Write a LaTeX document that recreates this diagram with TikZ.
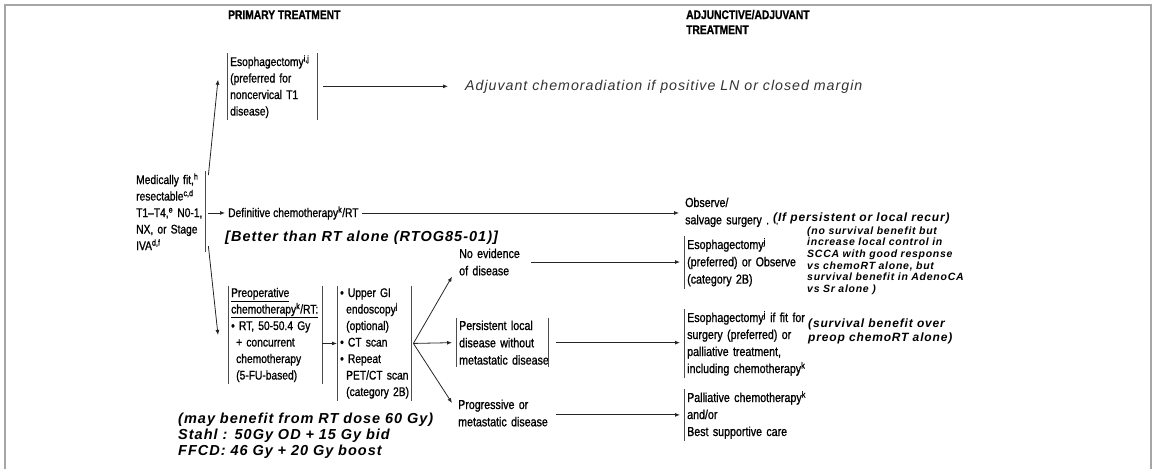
\documentclass[tikz,border=0pt]{standalone}
\usepackage{fontspec}
\setmainfont{Liberation Sans}
\newfontfamily\nar[FakeStretch=0.82,FakeBold=1]{Liberation Sans}
\newfontfamily\ital[LetterSpace=7]{Liberation Sans}
\usetikzlibrary{arrows.meta,calc}
\begin{document}
\begin{tikzpicture}[x=1pt,y=-1pt,
 nl/.style={font=\nar\fontsize{12.5}{16.5}\selectfont},
 nm/.style={font=\nar\fontsize{13}{17.3}\selectfont},
 hd/.style={font=\nar\bfseries\fontsize{12.5}{15}\selectfont, inner sep=0pt, anchor=base west, align=left},
 tb/.style={inner xsep=3pt, inner ysep=2pt, anchor=base west, align=left},
 bi/.style={font=\ital\itshape\bfseries\fontsize{14.5}{16}\selectfont},
 arr/.style={draw=black!85, line width=0.8pt, -{Latex[length=5pt,width=4pt]}},
 bar/.style={draw=black!70, line width=0.9pt}
]
\useasboundingbox (0,0) rectangle (1154,469);
\draw[gray!70, line width=2pt] (5,469) -- (5,5) -- (1151,5) -- (1151,469);

% headings
\node[hd] (hp) at (228,19) {PRIMARY TREATMENT};
\node[hd, text width=140] (ha) at (686,19) {ADJUNCTIVE/ADJUVANT\\TREATMENT};

% left column
\node[tb,nl,text width=66] (fit) at (133,184) {Medically fit,\textsuperscript{h}\\resectable\textsuperscript{c,d}\\\mbox{T1–T4,\textsuperscript{e} N0-1,}\\NX, or Stage\\IVA\textsuperscript{d,f}};
\draw[bar] (fit.north east) -- (fit.south east);

\node[tb,nl,text width=84] (esoph) at (227,66) {\mbox{Esophagectomy\textsuperscript{i,j}}\\(preferred for\\noncervical T1\\disease)};
\draw[bar] (esoph.north west) -- (esoph.south west);
\draw[bar] (esoph.north east) -- (esoph.south east);

\node[tb,font=\ital\itshape\fontsize{14.2}{16}\selectfont, text=black!80] (adj) at (462,90) {Adjuvant chemoradiation if positive LN or closed margin};

\node[tb,nl] (defn) at (225,217) {Definitive chemotherapy\textsuperscript{k}/RT};
\node[tb,bi] (better) at (222,241) {[Better than RT alone (RTOG85-01)]};

\node[tb,nl,text width=88] (preop) at (228,297) {\underline{Preoperative}\\\mbox{\underline{chemotherapy\textsuperscript{k}/RT:}}\\\mbox{• RT, 50-50.4 Gy}\\\hspace*{5pt}+ concurrent\\\hspace*{5pt}chemotherapy\\\hspace*{5pt}(5-FU-based)};
\draw[bar] (preop.north west) -- (preop.south west);
\draw[bar] (preop.north east) -- (preop.south east);

\node[tb,nl,text width=68] (tests) at (337,297) {• Upper GI\\\mbox{\hspace*{6pt}endoscopy\textsuperscript{j}}\\\hspace*{6pt}(optional)\\• CT scan\\• Repeat\\\mbox{\hspace*{6pt}PET/CT scan}\\\mbox{\hspace*{6pt}(category 2B)}};
\draw[bar] (tests.north west) -- (tests.south west);
\draw[bar] (tests.north east) -- (tests.south east);

\node[tb,bi,text width=300] (may) at (175,423) {(may benefit from RT dose 60 Gy)\\Stahl : 50Gy OD + 15 Gy bid\\FFCD: 46 Gy + 20 Gy boost};

% middle column
\node[tb,nm,text width=64] (noev) at (456,258) {\mbox{No evidence}\\of disease};
\node[tb,nm,text width=86] (persist) at (456,330) {\mbox{Persistent local}\\\mbox{disease without}\\\mbox{metastatic disease}};
\draw[bar] (persist.north west) -- (persist.south west);
\draw[bar] (persist.north east) -- (persist.south east);
\node[tb,nm,text width=100] (prog) at (455,409) {Progressive or\\metastatic disease};

% right column
\node[tb,nm,text width=100] (obs) at (682,207) {Observe/\\salvage surgery . .};
\node[tb,font=\ital\itshape\bfseries\fontsize{12}{14}\selectfont] (recur) at (770,221) {(If persistent or local recur)};
\node[tb,font=\ital\itshape\bfseries\fontsize{10.5}{11.7}\selectfont,text width=160] (nosurv) at (804,234) {(no survival benefit but\\increase local control in\\SCCA with good response\\vs chemoRT alone, but\\survival benefit in AdenoCA\\vs Sr alone )};

\node[tb,nm,text width=115] (esoobs) at (684,249) {Esophagectomy\textsuperscript{j}\\(preferred) or Observe\\(category 2B)};
\draw[bar] (esoobs.north west) -- (esoobs.south west);

\node[tb,font=\nar\fontsize{13}{17}\selectfont,text width=125] (esofit) at (684,322) {\mbox{Esophagectomy\textsuperscript{j} if fit for}\\surgery (preferred) or\\palliative treatment,\\\mbox{including chemotherapy\textsuperscript{k}}};
\draw[bar] (esofit.north west) -- (esofit.south west);
\node[tb,font=\ital\itshape\bfseries\fontsize{12}{13.5}\selectfont] (survover) at (805,341) {(survival benefit over\\preop chemoRT alone)};

\node[tb,font=\nar\fontsize{13}{17}\selectfont,text width=125] (pall) at (684,402) {\mbox{Palliative chemotherapy\textsuperscript{k}}\\and/or\\Best supportive care};
\draw[bar] (pall.north west) -- (pall.south west);

% connectors
\draw[arr] ($(fit.north east)+(3,4)$) -- ($(esoph.west)+(-9,-7)$);
\draw[arr] ($(fit.east|-defn.west)+(3,0)$) -- (defn.west);
\draw[arr] ($(fit.south east)+(3,-6)$) -- ($(preop.west)+(-10,0)$);
\draw[arr] ($(esoph.east|-adj.west)+(6,0)$) -- ($(adj.west)+(-14,0)$);
\draw[arr] (defn.east) -- ($(obs.west|-defn.east)+(-3,0)$);
\draw[arr] (preop.east|-tests.west) -- (tests.west);
\draw[arr] ($(tests.east)+(2,0)$) -- ($(noev.south west)+(-4,-1)$);
\draw[arr] ($(tests.east)+(2,0)$) -- ($(persist.west)+(-4,0)$);
\draw[arr] ($(tests.east)+(2,0)$) -- ($(prog.west)+(-3,-10)$);
\draw[arr] ($(noev.east)+(5,0)$) -- ($(esoobs.west|-noev.east)+(-4,0)$);
\draw[arr] ($(persist.east)+(8,0)$) -- ($(esofit.west|-persist.east)+(-4,0)$);
\draw[arr] ($(persist.east|-pall.west)+(8,0)$) -- ($(pall.west)+(-4,0)$);
\end{tikzpicture}
\end{document}
